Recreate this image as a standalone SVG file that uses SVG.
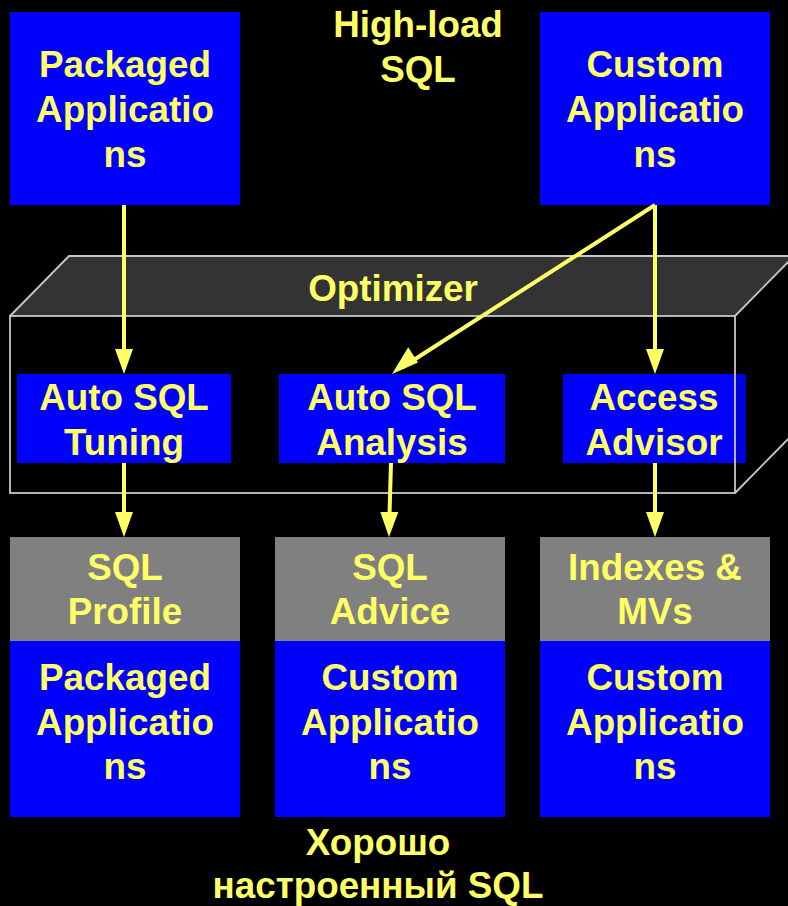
<svg xmlns="http://www.w3.org/2000/svg" width="788" height="906" viewBox="0 0 788 906">
<defs>
<style>
text{font-family:"Liberation Sans",Arial,sans-serif;font-weight:bold;font-size:36.8px;fill:#ffff66;text-anchor:middle}
.blue{fill:#0000ff}
.gray{fill:#808080}
.edge{fill:none;stroke:#c8c8c8;stroke-width:1.8}
.conn line{stroke:#ffff66;stroke-width:4}
.conn polygon{fill:#ffff66}
</style>
</defs>
<rect width="788" height="906" fill="#000"/>
<g id="high-load-label">
<text x="418" y="37">High-load</text>
<text x="418" y="82">SQL</text>
</g>
<g id="packaged-top">
<rect class="blue" x="10" y="12" width="230" height="193"/>
<text x="125" y="77">Packaged</text>
<text x="125" y="122">Applicatio</text>
<text x="125" y="167">ns</text>
</g>
<g id="custom-top">
<rect class="blue" x="540" y="12" width="230" height="193"/>
<text x="655" y="77">Custom</text>
<text x="655" y="122">Applicatio</text>
<text x="655" y="167">ns</text>
</g>
<g id="auto-sql-tuning">
<rect class="blue" x="17" y="374" width="214" height="89"/>
<text x="124" y="410">Auto SQL</text>
<text x="124" y="455">Tuning</text>
</g>
<g id="auto-sql-analysis">
<rect class="blue" x="279" y="374" width="226" height="89"/>
<text x="392" y="410">Auto SQL</text>
<text x="392" y="455">Analysis</text>
</g>
<g id="access-advisor">
<rect class="blue" x="563" y="374" width="183" height="89"/>
<text x="654" y="410">Access</text>
<text x="654" y="455">Advisor</text>
</g>
<g id="optimizer">
<polygon points="10,316 69,256 794,256 735,316" fill="#333333"/>
<polygon points="735,316 794,256 794,433 735,493" fill="#000" fill-opacity="0.15"/>
<rect class="edge" x="10" y="316" width="725" height="177"/>
<polyline class="edge" points="10,316 69,256 794,256"/>
<line class="edge" x1="735" y1="316" x2="794" y2="256"/>
<line class="edge" x1="735" y1="493" x2="794" y2="433"/>
<text x="393" y="301">Optimizer</text>
</g>
<g id="sql-profile">
<rect class="gray" x="10" y="537" width="230" height="104"/>
<rect class="blue" x="10" y="641" width="230" height="176"/>
<text x="125" y="580">SQL</text>
<text x="125" y="624">Profile</text>
<text x="125" y="690">Packaged</text>
<text x="125" y="735">Applicatio</text>
<text x="125" y="779">ns</text>
</g>
<g id="sql-advice">
<rect class="gray" x="275" y="537" width="230" height="104"/>
<rect class="blue" x="275" y="641" width="230" height="176"/>
<text x="390" y="580">SQL</text>
<text x="390" y="624">Advice</text>
<text x="390" y="690">Custom</text>
<text x="390" y="735">Applicatio</text>
<text x="390" y="779">ns</text>
</g>
<g id="indexes-mvs">
<rect class="gray" x="540" y="537" width="230" height="104"/>
<rect class="blue" x="540" y="641" width="230" height="176"/>
<text x="655" y="580">Indexes &amp;</text>
<text x="655" y="624">MVs</text>
<text x="655" y="690">Custom</text>
<text x="655" y="735">Applicatio</text>
<text x="655" y="779">ns</text>
</g>
<g id="well-tuned-label">
<text x="378" y="855">Хорошо</text>
<text x="378" y="898">настроенный SQL</text>
</g>
<g id="connectors" class="conn">
<line x1="124" y1="205" x2="124" y2="362"/>
<polygon points="115,349 133,349 124,374"/>
<line x1="124" y1="463" x2="124" y2="525"/>
<polygon points="115,512 133,512 124,537"/>
<line x1="655" y1="205" x2="655" y2="362"/>
<polygon points="646,349 664,349 655,374"/>
<line x1="655" y1="205" x2="402" y2="367.5"/>
<polygon points="392,374 408.2,347.3 418,362.4"/>
<line x1="391" y1="463" x2="389.2" y2="525"/>
<polygon points="380.3,512 398.3,512 389,537"/>
<line x1="655" y1="463" x2="655" y2="525"/>
<polygon points="646,512 664,512 655,537"/>
</g>
</svg>
